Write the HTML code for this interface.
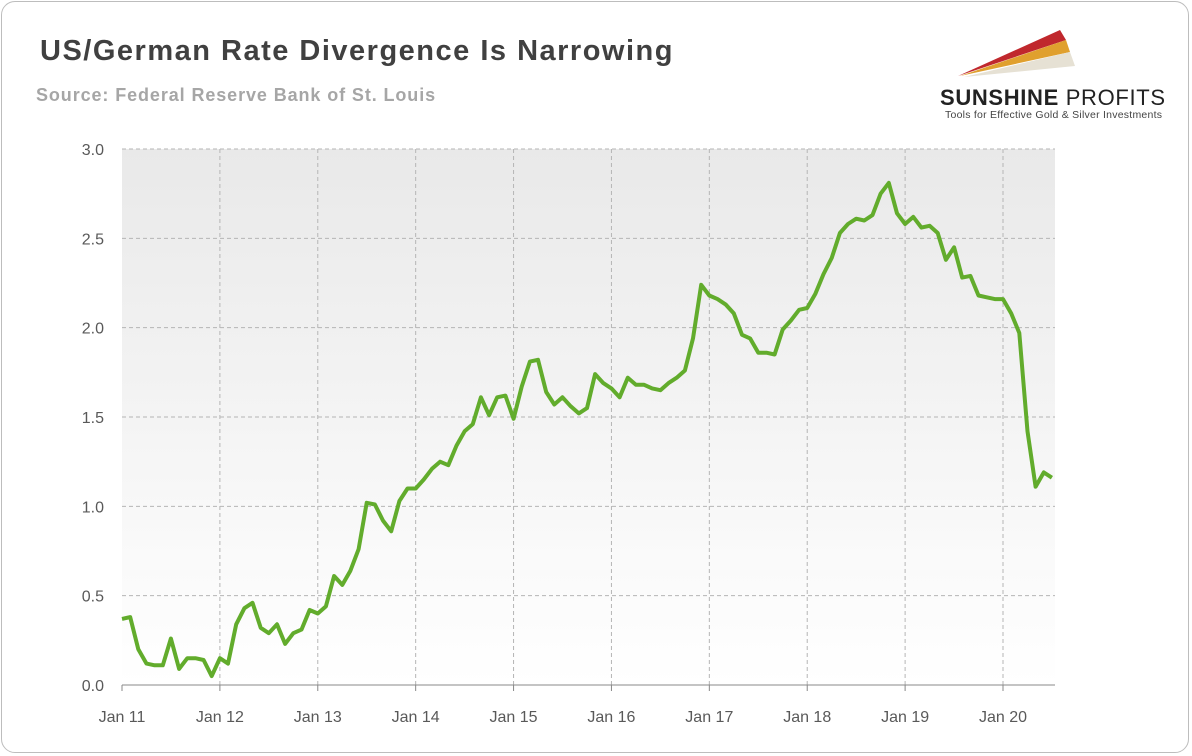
<!DOCTYPE html>
<html><head><meta charset="utf-8">
<style>
html,body{margin:0;padding:0;background:#fff;}
body{width:1192px;height:756px;position:relative;overflow:hidden;font-family:"Liberation Sans",sans-serif;}
#frame{position:absolute;left:1px;top:1px;width:1188px;height:752px;border:1px solid #bdbdbd;border-radius:14px;box-sizing:border-box;}
#title{position:absolute;left:40px;top:35px;font-size:29px;font-weight:bold;color:#404040;letter-spacing:1.5px;}
#src{position:absolute;left:36px;top:85px;font-size:18px;font-weight:bold;color:#a6a6a6;letter-spacing:0.9px;}
</style></head><body>
<div id="frame"></div>
<div id="title">US/German Rate Divergence Is Narrowing</div>
<div id="src">Source: Federal Reserve Bank of St. Louis</div>
<svg width="1192" height="756" style="position:absolute;left:0;top:0" id="svg">
<defs>
<linearGradient id="bg" x1="0" y1="0" x2="0" y2="1"><stop offset="0" stop-color="#e9e9e9"/><stop offset="1" stop-color="#ffffff"/></linearGradient>
</defs>
<g>
<polygon points="958,76 1060,30 1066,40" fill="#c0282d"/>
<polygon points="960,76 1066,40 1070,52" fill="#e0a02e"/>
<polygon points="964,77 1070,52 1075,66" fill="#e6e1d4"/>
<text x="940" y="105" font-size="22" font-weight="bold" fill="#222" font-family="Liberation Sans,sans-serif" textLength="225">SUNSHINE <tspan font-weight="normal">PROFITS</tspan></text>
<text x="945" y="118" font-size="10.5" fill="#444" font-family="Liberation Sans,sans-serif" textLength="217">Tools for Effective Gold &amp; Silver Investments</text>
</g>
<rect x="122" y="149" width="933" height="536" fill="url(#bg)"/>
<g id="grid"></g><g id="axes"></g><g id="line"></g>
</svg>
<script>
const values=[0.37,0.38,0.20,0.12,0.11,0.11,0.26,0.09,0.15,0.15,0.14,0.05,
0.15,0.12,0.34,0.43,0.46,0.32,0.29,0.34,0.23,0.29,0.31,0.42,
0.40,0.44,0.61,0.56,0.64,0.76,1.02,1.01,0.92,0.86,1.03,1.10,
1.10,1.15,1.21,1.25,1.23,1.34,1.42,1.46,1.61,1.51,1.61,1.62,
1.49,1.67,1.81,1.82,1.64,1.57,1.61,1.56,1.52,1.55,1.74,1.69,
1.66,1.61,1.72,1.68,1.68,1.66,1.65,1.69,1.72,1.76,1.94,2.24,
2.18,2.16,2.13,2.08,1.96,1.94,1.86,1.86,1.85,1.99,2.04,2.10,
2.11,2.19,2.30,2.39,2.53,2.58,2.61,2.60,2.63,2.75,2.81,2.64,
2.58,2.62,2.56,2.57,2.53,2.38,2.45,2.28,2.29,2.18,2.17,2.16,
2.16,2.08,1.97,1.42,1.11,1.19,1.16];
const yTicks=[0,0.5,1.0,1.5,2.0,2.5,3.0];
const xLabels=["Jan 11","Jan 12","Jan 13","Jan 14","Jan 15","Jan 16","Jan 17","Jan 18","Jan 19","Jan 20"];
const NS="http://www.w3.org/2000/svg";
const X0=122,X1=1055,Y0=685,Y1=149,monthW=(1003-122)/108;
const xs=i=>X0+i*monthW, ys=v=>Y0-(v/3)*(Y0-Y1);
const grid=document.getElementById('grid'),axes=document.getElementById('axes');
function mk(t,a,p){const e=document.createElementNS(NS,t);for(const k in a)e.setAttribute(k,a[k]);p.appendChild(e);return e;}
yTicks.forEach(v=>{
 if(v>0){const l=mk('line',{x1:X0,x2:X1,y1:ys(v),y2:ys(v),stroke:'#b5b5b5','stroke-dasharray':'4,3'},grid);
 
 }
 const t=mk('text',{x:104,y:ys(v)+6,'text-anchor':'end','font-size':'16',fill:'#595959'},axes);
 t.textContent=v.toFixed(1);
 
 
});
xLabels.forEach((s,k)=>{
 const x=xs(k*12);
 if(k>0){const l=mk('line',{x1:x,x2:x,y1:Y1,y2:Y0,stroke:'#b5b5b5','stroke-dasharray':'4,3'},grid);
 
 }
 mk('line',{x1:x,x2:x,y1:Y0,y2:Y0+6,stroke:'#888'},axes);
 const t=mk('text',{x:x,y:722,'text-anchor':'middle','font-size':'16',fill:'#595959'},axes);
 t.textContent=s;
 
 
});
const ax=mk('line',{x1:X0,x2:X1,y1:Y0,y2:Y0,stroke:'#888'},axes);


const p=mk('polyline',{points:values.map((v,i)=>xs(i).toFixed(1)+','+ys(v).toFixed(1)).join(' '),fill:'none',stroke:'#62ac2c','stroke-width':'4','stroke-linejoin':'round'},document.getElementById('line'));


</script>
</body></html>
